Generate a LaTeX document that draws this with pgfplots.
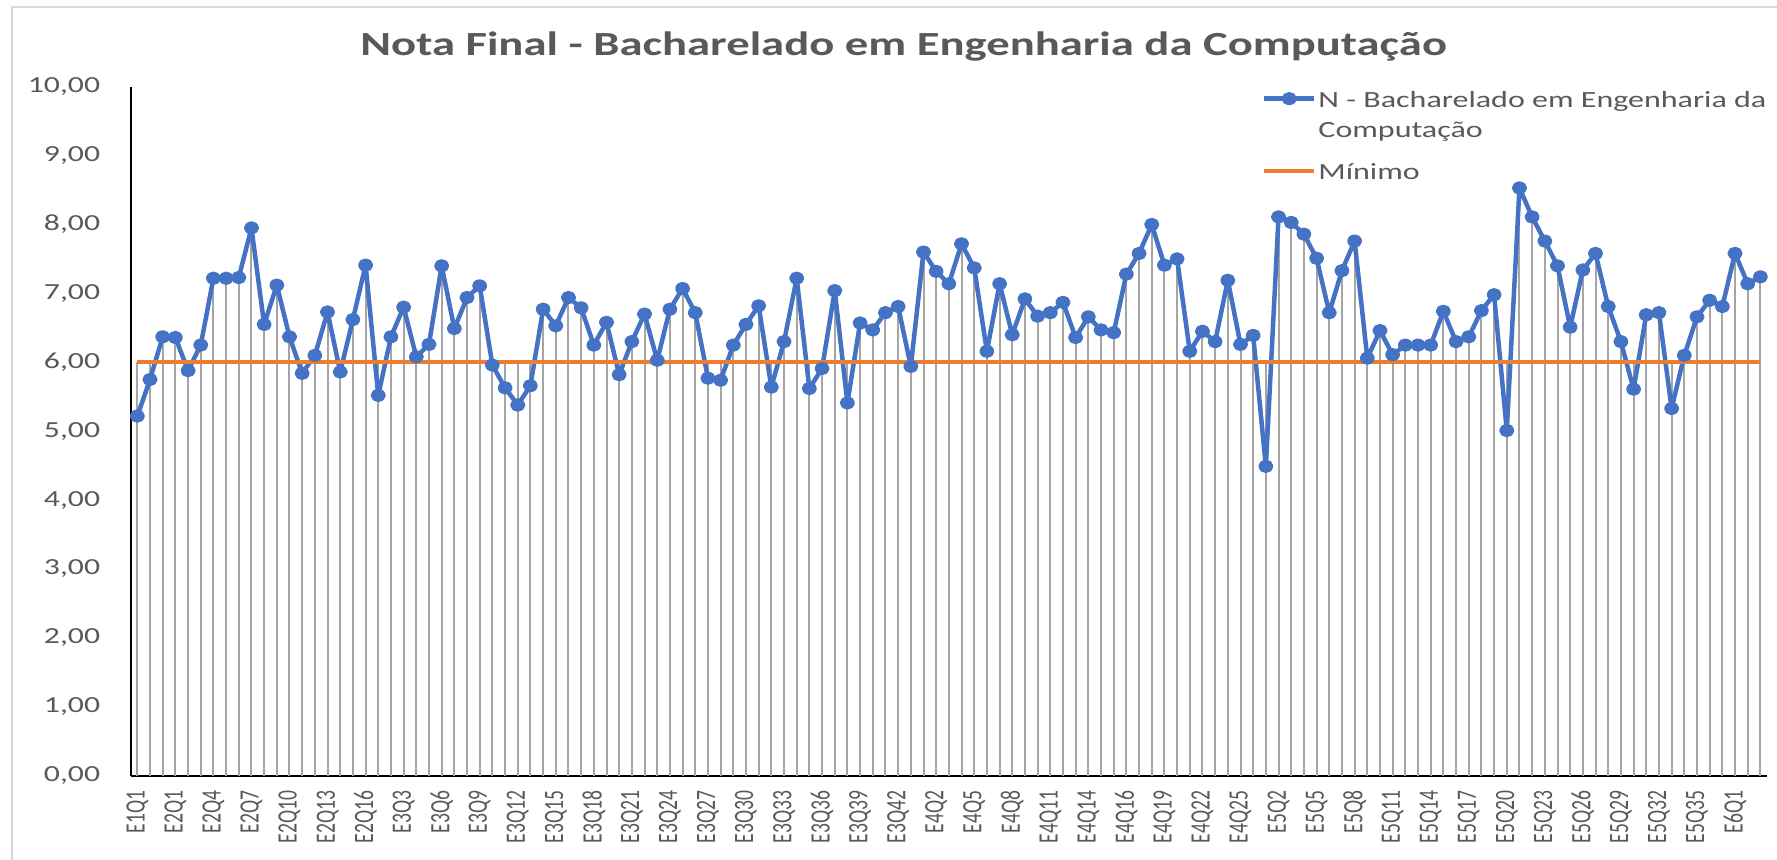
\documentclass[border=0pt]{standalone}
\usepackage{fontspec}
\setmainfont[FakeStretch=1.38]{Carlito}
\newfontfamily\xlabfont[FakeStretch=0.70]{Carlito}
\usepackage{pgfplots}
\pgfplotsset{compat=1.18}
\usepackage{pgfplotstable}

\definecolor{xlBlue}{HTML}{4472C4}
\definecolor{xlOrange}{HTML}{ED7D31}
\definecolor{xlDrop}{HTML}{A5A5A5}
\definecolor{xlText}{HTML}{595959}
\definecolor{xlBorder}{HTML}{D9D9D9}

% idx = question position, nota = final grade, minimo = pass mark
\pgfplotstableread{
idx nota minimo
0 5.22 6
1 5.75 6
2 6.37 6
3 6.36 6
4 5.88 6
5 6.25 6
6 7.22 6
7 7.22 6
8 7.23 6
9 7.95 6
10 6.55 6
11 7.12 6
12 6.37 6
13 5.84 6
14 6.10 6
15 6.73 6
16 5.86 6
17 6.62 6
18 7.41 6
19 5.52 6
20 6.37 6
21 6.80 6
22 6.08 6
23 6.26 6
24 7.40 6
25 6.49 6
26 6.94 6
27 7.11 6
28 5.96 6
29 5.63 6
30 5.38 6
31 5.66 6
32 6.77 6
33 6.53 6
34 6.94 6
35 6.79 6
36 6.25 6
37 6.58 6
38 5.82 6
39 6.30 6
40 6.70 6
41 6.03 6
42 6.77 6
43 7.07 6
44 6.72 6
45 5.77 6
46 5.74 6
47 6.25 6
48 6.55 6
49 6.82 6
50 5.64 6
51 6.30 6
52 7.22 6
53 5.62 6
54 5.91 6
55 7.04 6
56 5.41 6
57 6.57 6
58 6.47 6
59 6.72 6
60 6.81 6
61 5.94 6
62 7.60 6
63 7.32 6
64 7.14 6
65 7.72 6
66 7.37 6
67 6.16 6
68 7.14 6
69 6.40 6
70 6.92 6
71 6.67 6
72 6.72 6
73 6.87 6
74 6.36 6
75 6.66 6
76 6.47 6
77 6.43 6
78 7.28 6
79 7.58 6
80 8.00 6
81 7.41 6
82 7.50 6
83 6.16 6
84 6.45 6
85 6.30 6
86 7.19 6
87 6.26 6
88 6.39 6
89 4.49 6
90 8.11 6
91 8.03 6
92 7.86 6
93 7.51 6
94 6.72 6
95 7.33 6
96 7.76 6
97 6.06 6
98 6.46 6
99 6.11 6
100 6.25 6
101 6.25 6
102 6.25 6
103 6.74 6
104 6.30 6
105 6.37 6
106 6.75 6
107 6.98 6
108 5.01 6
109 8.53 6
110 8.11 6
111 7.76 6
112 7.40 6
113 6.51 6
114 7.34 6
115 7.58 6
116 6.81 6
117 6.30 6
118 5.61 6
119 6.69 6
120 6.72 6
121 5.33 6
122 6.10 6
123 6.66 6
124 6.90 6
125 6.81 6
126 7.58 6
127 7.14 6
128 7.24 6
}\notas

% strut: fixed depth 4bp, given height
\newcommand\lgstrut[1]{\rule[-4bp]{0pt}{#1}}

\begin{document}
\begin{tikzpicture}
\useasboundingbox (0,0) rectangle (888.5bp,430bp);
\draw[xlBorder, line width=1bp] (5.8bp,0) -- (5.8bp,426.5bp) -- (888.5bp,426.5bp);
\node[anchor=base, inner sep=0pt, text=xlText, font=\bfseries\fontsize{16.9bp}{20bp}\selectfont]
  at (451.8bp,402.3bp) {Nota Final - Bacharelado em Engenharia da Computação};
\begin{axis}[
  at={(65.5bp,42.15bp)}, anchor=south west,
  scale only axis, width=817.85bp, height=344.5bp,
  xmin=-0.5, xmax=128.5, ymin=0, ymax=10,
  axis x line*=bottom, axis y line*=left,
  axis line style={black, line width=1bp},
  major tick length=0pt,
  ytick={0,1,...,10},
  xtick={0,3,...,126},
  xticklabels={E1Q1,E2Q1,E2Q4,E2Q7,E2Q10,E2Q13,E2Q16,E3Q3,E3Q6,E3Q9,E3Q12,E3Q15,E3Q18,E3Q21,E3Q24,E3Q27,E3Q30,E3Q33,E3Q36,E3Q39,E3Q42,E4Q2,E4Q5,E4Q8,E4Q11,E4Q14,E4Q16,E4Q19,E4Q22,E4Q25,E5Q2,E5Q5,E5Q8,E5Q11,E5Q14,E5Q17,E5Q20,E5Q23,E5Q26,E5Q29,E5Q32,E5Q35,E6Q1},
  x tick label style={rotate=90, anchor=east, inner sep=0pt, inner xsep=7.2bp, text=xlText,
    font=\xlabfont\fontsize{14bp}{16bp}\selectfont},
  y tick label style={anchor=east, inner sep=0pt, inner xsep=15.25bp, text=xlText,
    font=\fontsize{11.5bp}{14bp}\selectfont,
    /pgf/number format/.cd, fixed, fixed zerofill, precision=2, use comma, assume math mode=true},
  legend style={at={(1,1)}, anchor=north east, draw=none, fill=none, inner sep=0pt,
    row sep=0pt, column sep=1bp, text=xlText,
    font=\fontsize{11.6bp}{14bp}\selectfont,
    nodes={inner sep=0pt}, cells={anchor=base west}},
  legend image code/.code={\draw[#1, mark repeat=2, mark phase=2]
    plot coordinates {(0bp,4.2bp) (12.5bp,4.2bp) (25bp,4.2bp)};},
]
\addplot[xlDrop, line width=1bp, ycomb, forget plot] table[x=idx, y=minimo] {\notas};
\addplot[xlDrop, line width=1bp, ycomb, forget plot] table[x=idx, y=nota] {\notas};
\addplot[xlBlue, line width=2.25bp, line join=round, mark=*, mark size=2.2bp,
  mark options={solid, fill=xlBlue, xscale=1.2}] table[x=idx, y=nota] {\notas};
\addlegendentry{\lgstrut{14bp}N - Bacharelado em Engenharia da}
\addlegendimage{empty legend}
\addlegendentry{\lgstrut{17.6bp}Computação}
\addplot[xlOrange, line width=2bp] table[x=idx, y=minimo] {\notas};
\addlegendentry{\lgstrut{23.4bp}Mínimo}
\end{axis}
\end{tikzpicture}
\end{document}
